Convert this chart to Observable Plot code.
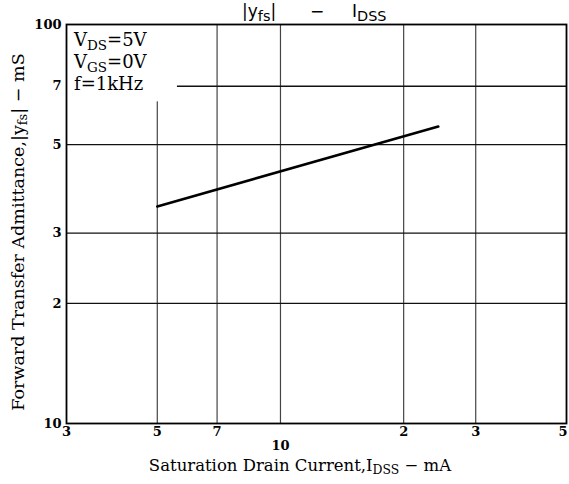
<!DOCTYPE html>
<html>
<head>
<meta charset="utf-8">
<script src="https://cdn.jsdelivr.net/npm/d3@7"></script>
<script src="https://cdn.jsdelivr.net/npm/@observablehq/plot@0.6"></script>
<style>
  html, body { margin: 0; padding: 0; background: #fff; }
  svg { display: block; }
</style>
</head>
<body>
<div id="chart"></div>
<script>
// Data
const idss = [5, 24.3];            // mA
const yfs = [35.0, 55.5];          // mS
const xTicks = [3, 5, 7, 10, 20, 30, 50];
const xTickLabels = ["3", "5", "7", "10", "2", "3", "5"];
const yTicks = [10, 20, 30, 50, 70, 100];
const yTickLabels = ["10", "2", "3", "5", "7", "100"];
const xGrid = [5, 7, 10, 20, 30];
const yGrid = [20, 30, 50, 70];
const noteBox = [{x1: 3, x2: 5.6, y1: 64, y2: 100}];

const line = idss.map((x, i) => ({x, y: yfs[i]}));
const xLab = new Map(xTicks.map((t, i) => [t, xTickLabels[i]]));
const yLab = new Map(yTicks.map((t, i) => [t, yTickLabels[i]]));

const serif = "'DejaVu Serif', 'Liberation Serif', serif";
const tickFont = {fontSize: 13, fontWeight: "bold", fill: "#000"};

const chart = Plot.plot({
  width: 569,
  height: 484,
  marginLeft: 66,
  marginRight: 3,
  marginTop: 24,
  marginBottom: 61,
  style: {fontFamily: serif, background: "#fff"},
  x: {type: "log", domain: [3, 50], axis: null},
  y: {type: "log", domain: [10, 100], axis: null},
  marks: [
    Plot.ruleX(xGrid, {stroke: "#444", strokeWidth: 1.2}),
    Plot.ruleY(yGrid, {stroke: "#111", strokeWidth: 1.4}),
    Plot.rect(noteBox, {x1: "x1", x2: "x2", y1: "y1", y2: "y2", fill: "white"}),
    Plot.frame({stroke: "#000", strokeWidth: 1.8}),
    Plot.line(line, {x: "x", y: "y", stroke: "#000", strokeWidth: 2.6}),
    // x tick labels (the "10" sits lower, as in the reference)
    Plot.text(xTicks.filter(t => t !== 10 && t !== 50), {
      x: d => d, frameAnchor: "bottom", lineAnchor: "top", dy: 3,
      text: d => xLab.get(d), textAnchor: "middle", ...tickFont
    }),
    Plot.text([50], {
      x: d => d, frameAnchor: "bottom", lineAnchor: "top", dy: 3,
      text: d => xLab.get(d), textAnchor: "end", dx: 1, ...tickFont
    }),
    Plot.text([10], {
      x: d => d, frameAnchor: "bottom", lineAnchor: "top", dy: 17,
      text: d => xLab.get(d), textAnchor: "middle", ...tickFont
    }),
    // y tick labels
    Plot.text(yTicks, {
      y: d => d, frameAnchor: "left", dx: -5, textAnchor: "end",
      text: d => yLab.get(d), ...tickFont
    })
  ]
});

document.getElementById("chart").appendChild(chart);

// Text with subscripts
const svg = d3.select(chart);
function addText(parts, attrs, subSize = "75%") {
  const t = svg.append("text").attr("text-anchor", "start").attr("fill", "#000");
  Object.entries(attrs).forEach(([k, v]) => t.attr(k, v));
  parts.forEach(([s, sub]) => {
    const ts = t.append("tspan").text(s);
    if (sub) ts.attr("baseline-shift", "-25%").attr("font-size", subSize);
  });
  return t;
}

const sans = "'DejaVu Sans', Arial, sans-serif";
// Title
addText([["|y", false], ["fs", true], ["|", false]], {x: 242, y: 17, "font-family": sans, "font-size": 17}, "85%");
addText([["−", false]], {x: 310, y: 17, "font-family": sans, "font-size": 17});
addText([["I", false], ["DSS", true]], {x: 352, y: 17, "font-family": sans, "font-size": 17}, "85%");

// Annotation
addText([["V", false], ["DS", true], ["=5V", false]], {x: 74, y: 46, "font-family": serif, "font-size": 18});
addText([["V", false], ["GS", true], ["=0V", false]], {x: 74, y: 68, "font-family": serif, "font-size": 18});
addText([["f=1kHz", false]], {x: 74, y: 90, "font-family": serif, "font-size": 18});

// X axis title
addText([["Saturation Drain Current,I", false], ["DSS", true], [" − mA", false]], {
  x: 300, y: 471, "text-anchor": "middle", "font-family": serif, "font-size": 16.5
});

// Y axis title
addText([["Forward Transfer Admittance,|y", false], ["fs", true], ["| − mS", false]], {
  transform: "translate(24,232) rotate(-90)", "text-anchor": "middle",
  "font-family": serif, "font-size": 17.5
});
</script>
</body>
</html>
